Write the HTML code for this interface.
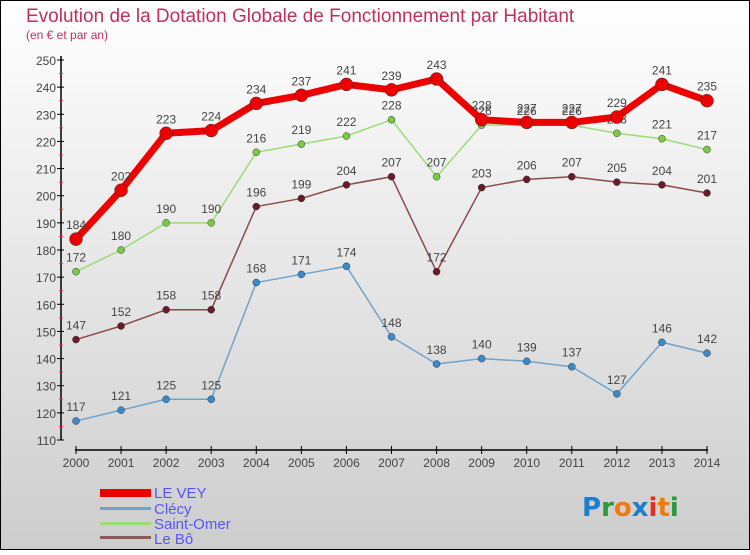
<!DOCTYPE html>
<html><head><meta charset="utf-8"><style>
body{margin:0;width:750px;height:550px;overflow:hidden;font-family:"Liberation Sans",sans-serif}
</style></head><body>
<svg id="chart" width="750" height="550" xmlns="http://www.w3.org/2000/svg">
<defs><linearGradient id="bg" x1="0" y1="0" x2="0" y2="1"><stop offset="0" stop-color="#ffffff"/><stop offset="1" stop-color="#cdcdcd"/></linearGradient></defs>
<rect x="0.5" y="0.5" width="749" height="549" fill="url(#bg)" stroke="#000"/>
<text x="26" y="22" font-size="19" fill="#c0305a">Evolution de la Dotation Globale de Fonctionnement par Habitant</text>
<text x="26" y="39" font-size="12" fill="#c0305a">(en € et par an)</text>
<g id="axes"></g><g id="series"></g>
<g font-size="15" fill="#5555ff">
<rect x="100" y="489" width="51" height="8" fill="#e00"/>
<text x="154" y="498">LE VEY</text>
<rect x="100" y="507" width="51" height="3" fill="#6fa3cc"/>
<text x="154" y="514">Clécy</text>
<rect x="100" y="522" width="51" height="3" fill="#99dd77"/>
<text x="154" y="529">Saint-Omer</text>
<rect x="100" y="536" width="51" height="3" fill="#8a5a5a"/>
<text x="154" y="544">Le Bô</text>
</g>
<g font-size="26" font-weight="bold" font-family="'DejaVu Sans',sans-serif">
<text x="582" y="516"><tspan fill="#1a7fd0">P</tspan><tspan fill="#2a9a3a">r</tspan><tspan fill="#f07a10">o</tspan><tspan fill="#1a7fd0">x</tspan><tspan fill="#e03020">i</tspan><tspan fill="#f07a10">t</tspan><tspan fill="#2a9a3a">i</tspan></text>
</g>
</svg>
<script>
const years=[2000,2001,2002,2003,2004,2005,2006,2007,2008,2009,2010,2011,2012,2013,2014];
const leVey=[184,202,223,224,234,237,241,239,243,228,227,227,229,241,235];
const clecy=[117,121,125,125,168,171,174,148,138,140,139,137,127,146,142];
const saintOmer=[172,180,190,190,216,219,222,228,207,226,226,226,223,221,217];
const leBo=[147,152,158,158,196,199,204,207,172,203,206,207,205,204,201];
const yTicks=[110,120,130,140,150,160,170,180,190,200,210,220,230,240,250];
const NS="http://www.w3.org/2000/svg";
const x=i=>76+i*(707-76)/14;
const y=v=>440-(v-110)*(380/140);
function mk(tag,attrs,parent){const e=document.createElementNS(NS,tag);for(const k in attrs)e.setAttribute(k,attrs[k]);parent.appendChild(e);return e;}
const ax=document.getElementById('axes');
let a=mk('line',{x1:61,y1:56,x2:61,y2:440,stroke:'#000','stroke-width':1.5},ax);


a=mk('line',{x1:75,y1:450,x2:708,y2:450,stroke:'#000','stroke-width':1.5},ax);


yTicks.forEach((v,i)=>{
  mk('line',{x1:57,y1:y(v),x2:64,y2:y(v),stroke:'#000'},ax);
  if(i<yTicks.length-1)mk('line',{x1:59,y1:y(v+5),x2:63,y2:y(v+5),stroke:'#e33'},ax);
  const t=mk('text',{x:56,y:y(v)+5,'text-anchor':'end','font-size':12,fill:'#444'},ax);
  t.textContent=v;
  
  
});
years.forEach((yr,i)=>{
  mk('line',{x1:x(i),y1:446,x2:x(i),y2:454,stroke:'#000'},ax);
  const t=mk('text',{x:x(i),y:467,'text-anchor':'middle','font-size':12,fill:'#444'},ax);
  t.textContent=yr;
  
  
});
const sg=document.getElementById('series');
function series(name,data,color,dot,w,r){
  const g=mk('g',{},sg);
  
  
  const p=mk('polyline',{points:data.map((v,i)=>x(i)+','+y(v)).join(' '),fill:'none',stroke:color,'stroke-width':w,'stroke-linejoin':'round'},g);
  
  
  data.forEach((v,i)=>{
    const c=mk('circle',{cx:x(i),cy:y(v),r:r,fill:dot,stroke:'#333','stroke-width':0.5},g);
    
    
    const t=mk('text',{x:x(i),y:y(v)-10,'text-anchor':'middle','font-size':12,fill:'#444'},g);
    t.textContent=v;
    
    
  });
}
series('clecy',clecy,'#6fa3cc','#3a8acc',1.5,3.5);
series('le-bo',leBo,'#8a4a4a','#6a1a2a',1.5,3.5);
series('saint-omer',saintOmer,'#99dd77','#77cc44',1.5,3.5);
series('le-vey',leVey,'#e00','#e00',7,6.5);
</script>
</body></html>
